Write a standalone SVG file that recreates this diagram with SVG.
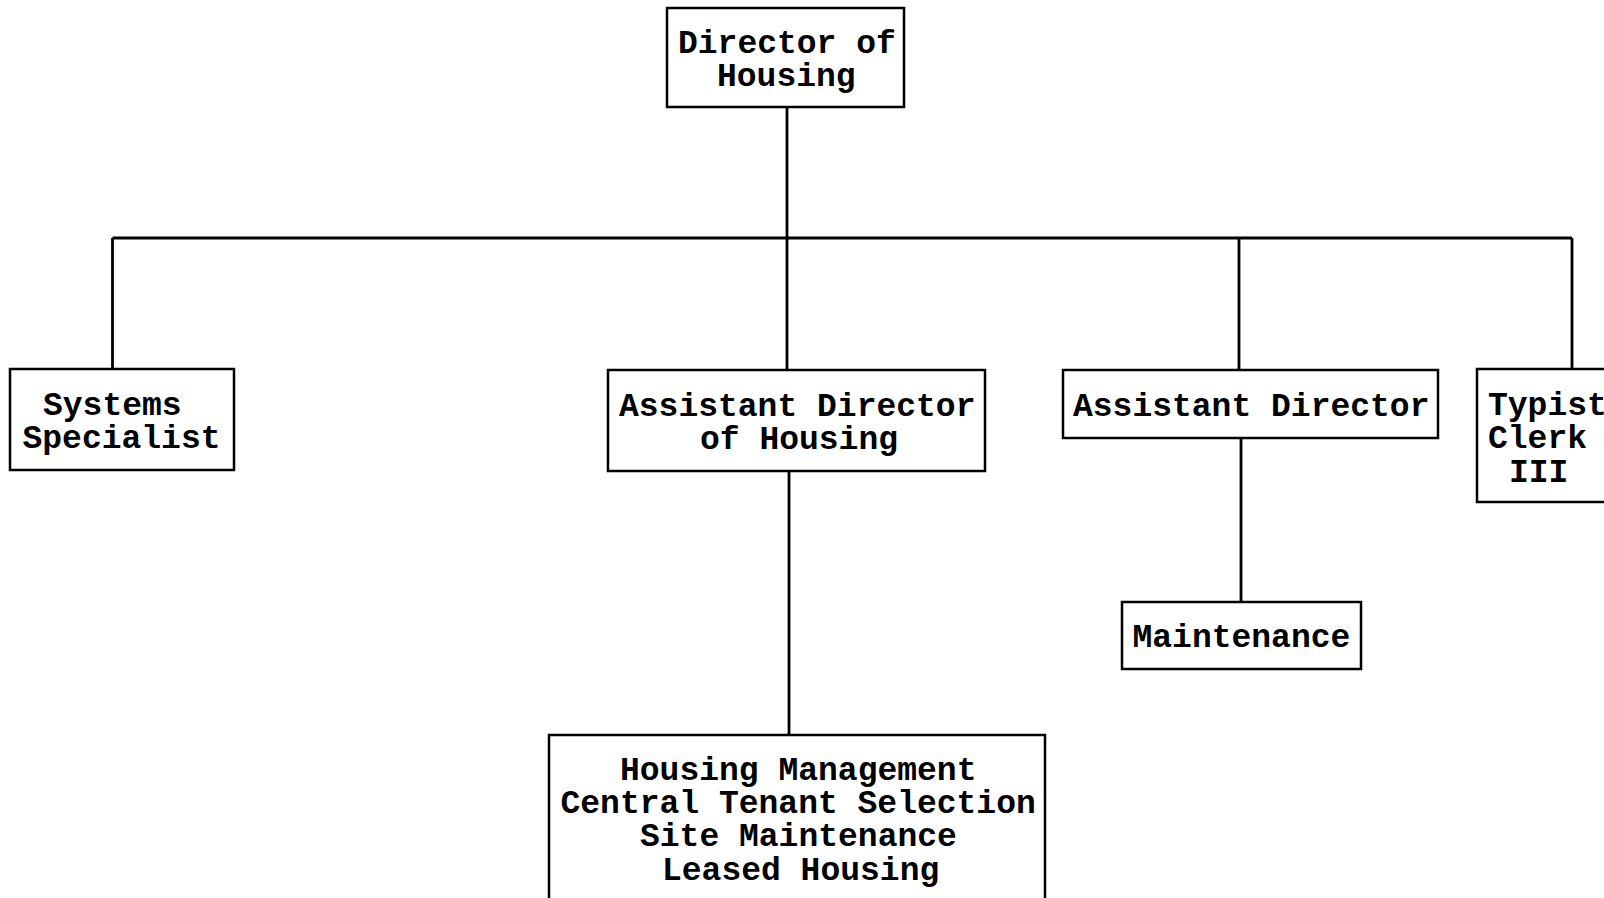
<svg xmlns="http://www.w3.org/2000/svg" width="1604" height="898" viewBox="0 0 1604 898">
<style>
.box{fill:#fff;stroke:#000;stroke-width:2.5}
.ln{stroke:#000;stroke-width:2.8;fill:none}
text{font-family:"Liberation Mono","Courier New",monospace;font-size:33px;font-weight:bold;fill:#000}
</style>
<rect width="1604" height="898" fill="#fff"/>
<g id="connectors">
<path class="ln" d="M787,107 V238 M112.5,238 H1572 M112.5,238 V369 M787,238 V370 M1239,238 V370 M1572,238 V369 M789,471 V735 M1241,438 V602"/>
</g>
<g id="director">
<rect class="box" x="667" y="8" width="237" height="99"/>
<text x="678" y="53">Director of</text>
<text x="717" y="86">Housing</text>
</g>
<g id="systems">
<rect class="box" x="10" y="369" width="224" height="101"/>
<text x="43" y="415">Systems</text>
<text x="22.5" y="448">Specialist</text>
</g>
<g id="asst-housing">
<rect class="box" x="608" y="370" width="377" height="101"/>
<text x="619" y="416">Assistant Director</text>
<text x="700" y="449">of Housing</text>
</g>
<g id="asst-director">
<rect class="box" x="1063" y="370" width="375" height="68"/>
<text x="1073" y="416">Assistant Director</text>
</g>
<g id="typist">
<rect class="box" x="1477" y="369" width="140" height="133"/>
<text x="1488" y="415">Typist</text>
<text x="1488" y="448">Clerk</text>
<text x="1509" y="482">III</text>
</g>
<g id="maintenance">
<rect class="box" x="1122" y="602" width="239" height="67"/>
<text x="1132.5" y="647">Maintenance</text>
</g>
<g id="housing-mgmt">
<rect class="box" x="549" y="735" width="496" height="180"/>
<text x="620" y="780">Housing Management</text>
<text x="560.5" y="813">Central Tenant Selection</text>
<text x="640" y="846">Site Maintenance</text>
<text x="662" y="880">Leased Housing</text>
</g>
</svg>
